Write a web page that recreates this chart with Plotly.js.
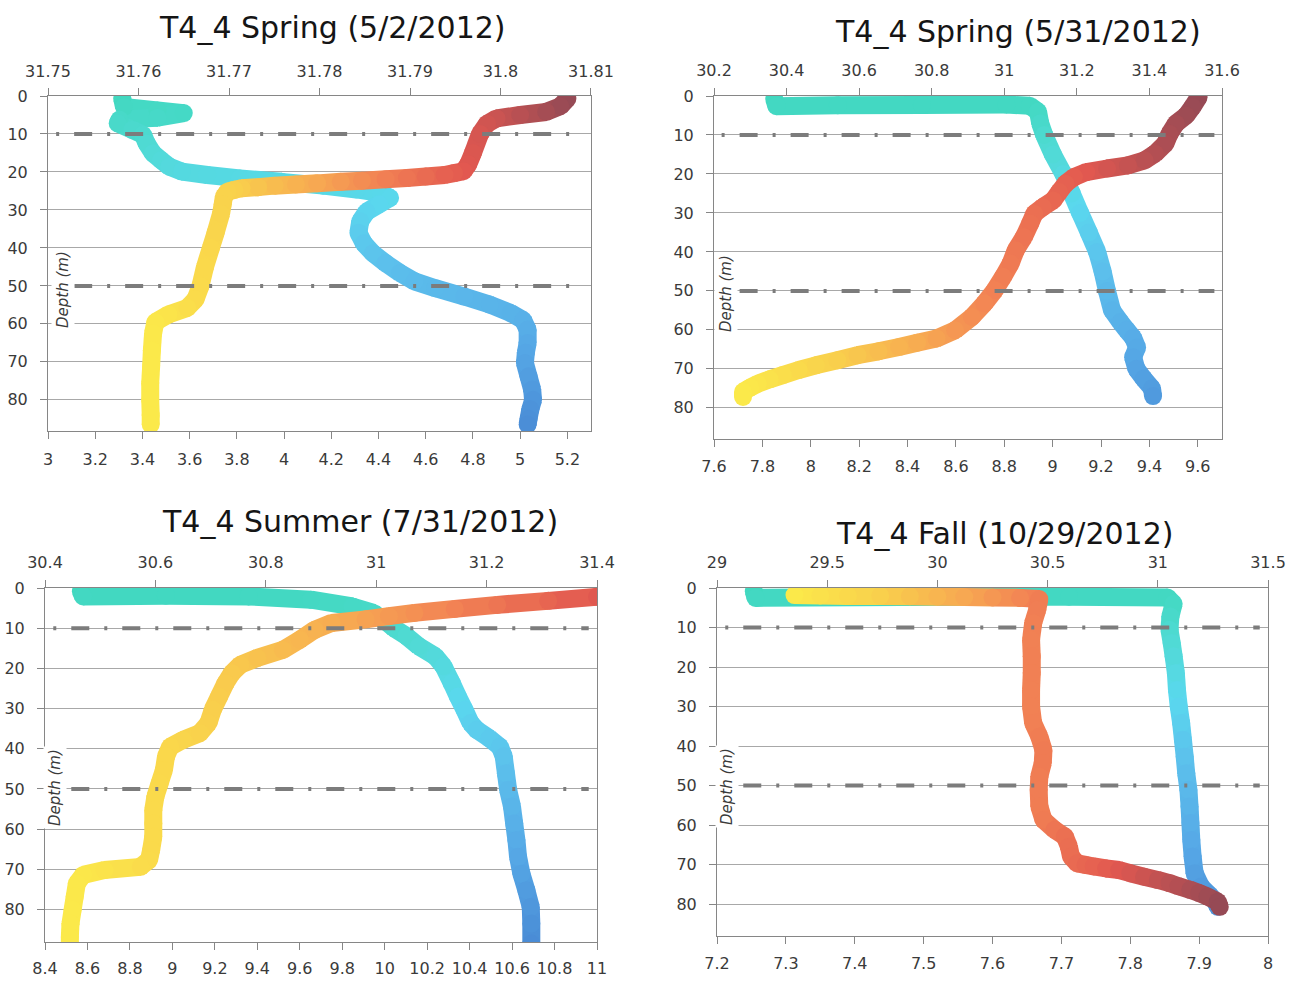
<!DOCTYPE html>
<html>
<head>
<meta charset="utf-8">
<script src="https://cdn.plot.ly/plotly-3.0.1.min.js"></script>
<style>
  body { margin: 0; background: #fff; }
  #chart { width: 1309px; height: 983px; }
</style>
</head>
<body>
<div id="chart"></div>
<script>
'use strict';

// ---- data (depth in m, temperature on bottom axis, salinity on top axis)
const titles = ['T4_4 Spring (5/2/2012)', 'T4_4 Spring (5/31/2012)', 'T4_4 Summer (7/31/2012)', 'T4_4 Fall (10/29/2012)'];

const may2TempDepth = [0.7, 2.7, 4.2, 5.0, 5.9, 7.3, 10, 15, 18, 19.8, 20.3, 20.8, 21.2, 21.6, 21.9, 22.3, 22.6, 23.0, 23.3, 23.6, 24.0, 24.3, 24.7, 25.2, 26.5, 28.5, 31, 36, 40, 45, 50, 53.5, 55.8, 57.5, 59.5, 62.5, 67, 71, 75.5, 80, 84, 86.5];
const may2Temp = [5.2, 5.17, 5.11, 5.0, 4.9, 4.86, 4.83, 4.80, 4.78, 4.76, 4.72, 4.68, 4.60, 4.52, 4.43, 4.33, 4.24, 4.14, 4.05, 3.96, 3.89, 3.82, 3.79, 3.76, 3.745, 3.74, 3.733, 3.71, 3.69, 3.665, 3.646, 3.625, 3.59, 3.51, 3.455, 3.445, 3.44, 3.437, 3.433, 3.433, 3.435, 3.435];
const may2SalDepth = [0.7, 2.9, 3.8, 4.5, 5.7, 6.2, 7.2, 8.9, 10.2, 12.5, 15.1, 16.9, 18.6, 19.9, 20.8, 21.7, 22.6, 23.6, 24.6, 25.6, 26.8, 28.5, 30.5, 33, 36, 38.8, 41.4, 44, 46.6, 48.8, 50.6, 52.8, 54.9, 57.1, 59, 61.5, 65, 67.6, 70.3, 73.8, 77.3, 80, 82.5, 85, 86.5];
const may2Sal = [31.7582, 31.7584, 31.7621, 31.765, 31.7621, 31.7579, 31.7577, 31.7593, 31.7605, 31.7609, 31.7616, 31.7625, 31.7634, 31.7648, 31.7676, 31.7712, 31.7758, 31.7804, 31.7841, 31.7868, 31.7878, 31.7866, 31.7852, 31.7845, 31.7843, 31.7849, 31.7859, 31.7873, 31.7889, 31.7905, 31.7928, 31.796, 31.7988, 31.8011, 31.8025, 31.803, 31.803, 31.8028, 31.8027, 31.8031, 31.8035, 31.8036, 31.8033, 31.8031, 31.803];

const may31TempDepth = [0.3, 2.8, 5, 7.1, 9.7, 12.2, 14.8, 16.5, 17.8, 18.6, 19.5, 20.8, 22.5, 24.6, 26.8, 28.5, 30.2, 32.7, 36.2, 39.6, 43, 46.4, 49.8, 53.2, 56.7, 60.1, 62.2, 63.3, 64.4, 65.5, 66.5, 67.8, 69.1, 70.3, 71.6, 72.7, 73.8, 74.8, 75.9, 77.2];
const may31Temp = [9.603, 9.578, 9.552, 9.509, 9.483, 9.466, 9.423, 9.38, 9.311, 9.225, 9.139, 9.088, 9.053, 9.027, 9.002, 8.959, 8.924, 8.907, 8.881, 8.847, 8.826, 8.795, 8.761, 8.718, 8.666, 8.597, 8.52, 8.44, 8.365, 8.28, 8.193, 8.11, 8.021, 7.95, 7.884, 7.83, 7.781, 7.75, 7.72, 7.72];
const may31SalDepth = [0.8, 2.6, 2.4, 2.3, 2.2, 2.5, 4.0, 7.0, 10, 15, 20, 25, 30, 35, 40, 45, 50, 55, 58, 60, 62, 64.5, 67, 70, 72.5, 75, 77];
const may31Sal = [30.366, 30.372, 30.541, 30.773, 31.006, 31.07, 31.093, 31.099, 31.11, 31.134, 31.163, 31.186, 31.209, 31.233, 31.256, 31.271, 31.283, 31.297, 31.32, 31.337, 31.355, 31.366, 31.355, 31.364, 31.384, 31.407, 31.41];

const jul31TempDepth = [1.0, 2.2, 3.2, 4.2, 5.2, 6.2, 7.0, 7.8, 8.7, 10.4, 12.9, 15.4, 17.4, 19.1, 21.2, 23.7, 27, 30.3, 33.6, 36.1, 37.8, 39.5, 41.9, 45.3, 48.6, 51.9, 55.2, 58.6, 61.9, 65.2, 67.7, 69.4, 70.2, 71.4, 73.5, 76.8, 80.1, 83.5, 86.8, 88.5];
const jul31Temp = [11.25, 11.0, 10.77, 10.53, 10.33, 10.14, 10.02, 9.91, 9.75, 9.67, 9.6, 9.52, 9.4, 9.32, 9.28, 9.25, 9.22, 9.19, 9.17, 9.13, 9.05, 8.99, 8.97, 8.96, 8.94, 8.92, 8.91, 8.91, 8.91, 8.9, 8.89, 8.85, 8.68, 8.58, 8.55, 8.54, 8.53, 8.52, 8.517, 8.517];
const jul31SalDepth = [0.8, 2.1, 1.9, 2.1, 2.9, 4.6, 6.2, 8.3, 10, 12, 14.5, 17, 19.5, 23.7, 27, 30.3, 33.6, 35.3, 37.4, 39.5, 41.9, 46.1, 50.2, 54.4, 58.6, 62.7, 66.9, 71.1, 75.2, 79.4, 83.5, 88.5];
const jul31Sal = [30.465, 30.469, 30.619, 30.769, 30.882, 30.957, 30.995, 31.017, 31.032, 31.055, 31.077, 31.107, 31.122, 31.137, 31.148, 31.16, 31.171, 31.182, 31.205, 31.224, 31.231, 31.235, 31.239, 31.246, 31.25, 31.254, 31.257, 31.263, 31.272, 31.28, 31.281, 31.281];

const oct29TempDepth = [1.8, 1.9, 2.0, 2.0, 2.1, 2.2, 2.3, 2.4, 2.5, 2.8, 5.5, 8.9, 13.1, 17.3, 21.5, 25.8, 30, 34.2, 37.6, 41, 44.3, 47.7, 51.1, 55.3, 58.7, 61.2, 62.9, 65.5, 68, 69.7, 70.1, 70.5, 71.0, 71.4, 72.2, 73.1, 73.9, 74.7, 75.5, 76.4, 77.2, 78.1, 79.4, 80.7];
const oct29Temp = [7.3125, 7.35, 7.39, 7.437, 7.48, 7.52, 7.559, 7.60, 7.64, 7.668, 7.665, 7.659, 7.656, 7.657, 7.657, 7.656, 7.656, 7.659, 7.668, 7.674, 7.673, 7.668, 7.667, 7.668, 7.674, 7.69, 7.705, 7.711, 7.714, 7.723, 7.735, 7.747, 7.765, 7.784, 7.80, 7.82, 7.84, 7.857, 7.87, 7.887, 7.90, 7.912, 7.927, 7.93];
const oct29SalDepth = [0.8, 2.5, 2.3, 2.2, 2.4, 4.0, 7.2, 10.6, 13.9, 17.3, 21.5, 25.8, 30, 34.2, 38.4, 42.7, 46.9, 51.1, 55.3, 59.5, 63.8, 68, 72.2, 75.6, 77.7, 79.4, 80.7];
const oct29Sal = [29.167, 29.175, 29.837, 30.597, 31.044, 31.072, 31.057, 31.053, 31.063, 31.072, 31.082, 31.087, 31.095, 31.106, 31.114, 31.122, 31.129, 31.139, 31.144, 31.148, 31.152, 31.158, 31.167, 31.196, 31.234, 31.262, 31.272];

// ---- tick labels
const depthTicks = [0, 10, 20, 30, 40, 50, 60, 70, 80];
const refDepths = [10, 50];
const may2TempTicks = [3, 3.2, 3.4, 3.6, 3.8, 4, 4.2, 4.4, 4.6, 4.8, 5, 5.2];
const may2SalTicks = [31.75, 31.76, 31.77, 31.78, 31.79, 31.8, 31.81];
const may31TempTicks = [7.6, 7.8, 8, 8.2, 8.4, 8.6, 8.8, 9, 9.2, 9.4, 9.6];
const may31SalTicks = [30.2, 30.4, 30.6, 30.8, 31, 31.2, 31.4, 31.6];
const jul31TempTicks = [8.4, 8.6, 8.8, 9, 9.2, 9.4, 9.6, 9.8, 10, 10.2, 10.4, 10.6, 10.8, 11];
const jul31SalTicks = [30.4, 30.6, 30.8, 31, 31.2, 31.4];
const oct29TempTicks = [7.2, 7.3, 7.4, 7.5, 7.6, 7.7, 7.8, 7.9, 8];
const oct29SalTicks = [29, 29.5, 30, 30.5, 31, 31.5];

// ---- styling
const W = 1309, H = 983;
const BAND = 18;
const FONT = 'DejaVu Sans';
const AXIS_COLOR = '#868686';
const GRID_COLOR = '#a8a8a8';
const TEMP_STOPS = [[0, [251, 233, 74]], [0.2, [249, 208, 76]], [0.4, [247, 168, 82]], [0.55, [242, 130, 84]], [0.75, [226, 88, 80]], [1, [150, 74, 85]]];
const SAL_STOPS = [[0, [64, 216, 190]], [0.15, [80, 218, 212]], [0.32, [90, 216, 238]], [0.5, [92, 192, 236]], [0.75, [86, 168, 230]], [1, [74, 140, 214]]];

const panels = [
    { title: titles[0], temp: may2Temp, tempDepth: may2TempDepth, sal: may2Sal, salDepth: may2SalDepth,
      tempTicks: may2TempTicks, salTicks: may2SalTicks, tempRange: [3, 5.3], salRange: [31.75, 31.81],
      box: [48, 591, 96, 431], depthMax: 88.2, titleAt: [332, 27], labelAt: [63, 290], gapTop: 5, gapBottom: 7 },
    { title: titles[1], temp: may31Temp, tempDepth: may31TempDepth, sal: may31Sal, salDepth: may31SalDepth,
      tempTicks: may31TempTicks, salTicks: may31SalTicks, tempRange: [7.6, 9.7], salRange: [30.2, 31.6],
      box: [714, 1222, 96, 439], depthMax: 88.0, titleAt: [1018, 32], labelAt: [726, 294], gapTop: 6, gapBottom: 6 },
    { title: titles[2], temp: jul31Temp, tempDepth: jul31TempDepth, sal: jul31Sal, salDepth: jul31SalDepth,
      tempTicks: jul31TempTicks, salTicks: jul31SalTicks, tempRange: [8.4, 11], salRange: [30.4, 31.4],
      box: [45, 597, 588, 942], depthMax: 88.1, titleAt: [360, 521], labelAt: [55, 788], gapTop: 6, gapBottom: 5,
      tempColorMax: 11.8 },
    { title: titles[3], temp: oct29Temp, tempDepth: oct29TempDepth, sal: oct29Sal, salDepth: oct29SalDepth,
      tempTicks: oct29TempTicks, salTicks: oct29SalTicks, tempRange: [7.2, 8], salRange: [29, 31.5],
      box: [717, 1268, 588, 936], depthMax: 88.1, titleAt: [1004, 533], labelAt: [727, 787], gapTop: 6, gapBottom: 6 },
];

function colorAt(stops, t) {
    t = Math.max(0, Math.min(1, t));
    for (let i = 1; i < stops.length; ++i) {
        if (t <= stops[i][0]) {
            const [t0, c0] = stops[i - 1];
            const [t1, c1] = stops[i];
            const f = (t - t0) / (t1 - t0);
            return 'rgb(' + c0.map((c, k) => Math.round(c + (c1[k] - c) * f)).join(',') + ')';
        }
    }
    return 'rgb(' + stops[stops.length - 1][1].join(',') + ')';
}

function axisKey(prefix, n) { return prefix + 'axis' + (n === 1 ? '' : n); }
function axisRef(prefix, n) { return prefix + (n === 1 ? '' : n); }

// a thick band made of short segments, each coloured, with round dots on the joints
function addBand(traces, xs, ys, xRef, yRef, shade) {
    for (let i = 0; i < xs.length - 1; ++i) {
        traces.push({
            x: [xs[i], xs[i + 1]], y: [ys[i], ys[i + 1]], xaxis: xRef, yaxis: yRef,
            mode: 'lines', line: { color: shade(i + 0.5), width: BAND },
            hoverinfo: 'skip', showlegend: false,
        });
    }
    traces.push({
        x: xs, y: ys, xaxis: xRef, yaxis: yRef, mode: 'markers',
        marker: { size: BAND, color: xs.map((_, i) => shade(i)), line: { width: 0 } },
        hoverinfo: 'skip', showlegend: false,
    });
}

function valueAt(arr, pos) {
    const i = Math.floor(pos), f = pos - i;
    if (i + 1 >= arr.length) return arr[arr.length - 1];
    return arr[i] + (arr[i + 1] - arr[i]) * f;
}

let traces = [];
let layout = {
    width: W, height: H, margin: { l: 0, r: 0, t: 0, b: 0 },
    paper_bgcolor: '#fff', plot_bgcolor: '#fff', showlegend: false,
    font: { family: FONT, size: 16, color: '#3a3a3a' },
    shapes: [], annotations: [],
};

const tickFont = { family: FONT, size: 16, color: '#3a3a3a' };

panels.forEach((p, k) => {
    // salinity (top) is the base axis, temperature (bottom) overlays it so its band is drawn on top
    const ns = 2 * k + 1, nt = 2 * k + 2, ny = k + 1;
    const [left, right, top, bottom] = p.box;
    const xs = axisRef('x', ns), xt = axisRef('x', nt), yr = axisRef('y', ny);
    const eps = 1e-6;

    layout[axisKey('x', ns)] = {
        domain: [left / W, right / W], anchor: yr, side: 'top',
        range: [p.salRange[0] - eps, p.salRange[1] + eps],
        tickmode: 'array', tickvals: p.salTicks, ticktext: p.salTicks.map(String),
        ticks: 'outside', ticklen: 7, tickcolor: AXIS_COLOR, ticklabelstandoff: p.gapTop,
        showline: true, linecolor: AXIS_COLOR, linewidth: 1, showgrid: false, zeroline: false,
        tickfont: tickFont, fixedrange: true,
    };
    layout[axisKey('x', nt)] = {
        overlaying: xs, side: 'bottom', anchor: yr,
        range: [p.tempRange[0] - eps, p.tempRange[1] + eps],
        tickmode: 'array', tickvals: p.tempTicks, ticktext: p.tempTicks.map(String),
        ticks: 'outside', ticklen: 7, tickcolor: AXIS_COLOR, ticklabelstandoff: p.gapBottom,
        showline: true, linecolor: AXIS_COLOR, linewidth: 1, showgrid: false, zeroline: false,
        tickfont: tickFont, fixedrange: true,
    };
    layout[axisKey('y', ny)] = {
        domain: [1 - bottom / H, 1 - top / H], anchor: xs,
        range: [p.depthMax, 0],
        tickmode: 'array', tickvals: depthTicks, ticktext: depthTicks.map(String),
        ticks: 'outside', ticklen: 7, tickcolor: AXIS_COLOR, ticklabelstandoff: 9,
        showline: true, mirror: true, linecolor: AXIS_COLOR, linewidth: 1,
        showgrid: true, gridcolor: GRID_COLOR, gridwidth: 1, zeroline: false,
        tickfont: tickFont, fixedrange: true,
    };

    // salinity coloured by depth, temperature coloured by its own value
    const salShade = pos => colorAt(SAL_STOPS, valueAt(p.salDepth, pos) / 88);
    addBand(traces, p.sal, p.salDepth, xs, yr, salShade);

    const tMin = Math.min(...p.temp);
    const tMax = p.tempColorMax || Math.max(...p.temp);
    const tempShade = pos => colorAt(TEMP_STOPS, (valueAt(p.temp, pos) - tMin) / (tMax - tMin));
    addBand(traces, p.temp, p.tempDepth, xt, yr, tempShade);

    refDepths.forEach(d => {
        layout.shapes.push({
            type: 'line', xref: xs + ' domain', yref: yr, x0: 0.015, x1: 0.985, y0: d, y1: d,
            line: { color: '#7c7c7c', width: 4, dash: '3px,15px,18px,15px' }, layer: 'above',
        });
    });

    layout.annotations.push({
        text: p.title, xref: 'paper', yref: 'paper',
        x: p.titleAt[0] / W, y: 1 - p.titleAt[1] / H, xanchor: 'center', yanchor: 'middle',
        showarrow: false, font: { family: FONT, size: 30, color: '#151515' },
    });
    layout.annotations.push({
        text: '<i>Depth (m)</i>', xref: 'paper', yref: 'paper',
        x: p.labelAt[0] / W, y: 1 - p.labelAt[1] / H, xanchor: 'center', yanchor: 'middle',
        textangle: -90, showarrow: false, bgcolor: '#fff', borderpad: 2,
        font: { family: FONT, size: 15, color: '#3a3a3a' },
    });
});

Plotly.newPlot('chart', traces, layout, { displayModeBar: false, staticPlot: true });
</script>
</body>
</html>
